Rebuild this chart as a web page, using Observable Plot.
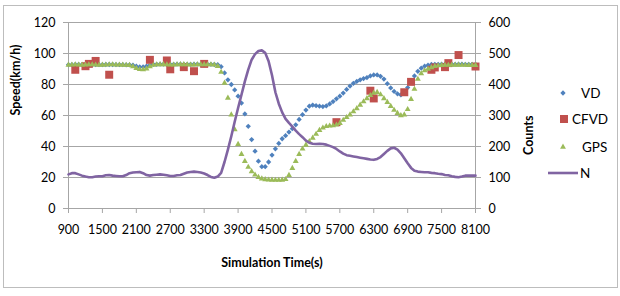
<!DOCTYPE html>
<html>
<head>
<meta charset="utf-8">
<script src="https://cdn.jsdelivr.net/npm/d3@7"></script>
<script src="https://cdn.jsdelivr.net/npm/@observablehq/plot@0.6"></script>
<style>
  html, body { margin: 0; padding: 0; background: #fff; }
  #chart { position: relative; width: 620px; height: 296px; font-family: Lato, sans-serif; }
  #chart svg { position: absolute; left: 0; top: 0; }
  #frame { position: absolute; left: 3px; top: 5px; width: 613px; height: 281px; border: 1px solid #bdbdbd; pointer-events: none; }
</style>
</head>
<body>
<div id="chart"><div id="frame"></div></div>
<script>
// Simulation time steps (s), one sample per minute
const times = d3.range(900, 8101, 60);

// VD speed (km/h)
const vd = [
  92.8, 92.8, 92.9, 92.9, 92.8, 92.8, 92.9, 92.9, 92.8, 92.8,
  92.8, 92.9, 92.9, 92.9, 92.8, 92.8, 92.8, 92.7, 92.7, 92.5,
  91.8, 91.3, 91.3, 91.8, 92.5, 93.0, 93.0, 93.1, 93.1, 93.0,
  93.0, 93.0, 93.1, 93.1, 93.0, 93.0, 93.0, 93.1, 93.1, 93.0,
  93.0, 93.0, 93.0, 92.9, 92.8, 91.5, 87.5, 83.0, 80.0, 76.5,
  72.5, 68.0, 61.0, 53.0, 44.5, 37.0, 30.5, 27.0, 27.0, 30.0,
  34.5, 38.5, 42.0, 45.0, 47.0, 49.3, 51.5, 54.0, 57.5, 60.5,
  63.5, 66.0, 66.7, 66.3, 66.0, 65.8, 66.2, 67.5, 69.0, 70.8,
  72.5, 74.5, 76.8, 79.0, 80.8, 82.0, 83.0, 83.8, 84.5, 85.5,
  86.2, 86.2, 85.3, 83.5, 80.5, 77.8, 75.5, 74.0, 73.3, 74.5,
  78.0, 81.5, 85.5, 88.5, 90.5, 91.8, 92.5, 92.9, 93.0, 93.0,
  93.1, 93.1, 93.0, 93.0, 93.0, 93.1, 93.1, 93.0, 93.0, 93.0,
  93.0
];

// GPS speed (km/h)
const gps = [
  92.6, 92.7, 92.8, 92.7, 92.6, 92.7, 92.8, 92.8, 92.7, 92.6,
  92.6, 92.7, 92.8, 92.8, 92.7, 92.7, 92.6, 92.5, 92.4, 91.6,
  90.5, 89.8, 89.7, 90.2, 91.6, 92.5, 92.8, 92.9, 92.9, 92.8,
  92.7, 92.7, 92.8, 92.9, 92.9, 92.8, 92.7, 92.7, 92.8, 92.9,
  92.9, 92.8, 92.8, 92.7, 91.8, 88.0, 81.0, 71.3, 60.5, 51.0,
  41.5, 35.0, 30.5, 26.7, 23.9, 21.7, 20.2, 19.2, 18.7, 18.5,
  18.4, 18.3, 18.3, 18.4, 18.8, 21.5, 26.0, 30.5, 35.0, 38.5,
  41.0, 43.2, 45.5, 48.0, 50.5, 52.0, 53.0, 53.3, 53.5, 54.0,
  55.0, 57.0, 58.8, 60.5, 62.5, 64.5, 66.8, 69.0, 71.0, 73.0,
  74.5, 75.0, 73.5, 71.0, 68.6, 66.0, 63.5, 61.5, 60.0, 60.5,
  64.0, 70.5, 77.0, 83.5, 87.0, 89.0, 90.0, 91.0, 91.8, 92.2,
  92.4, 92.5, 92.5, 92.6, 92.6, 92.6, 92.5, 92.5, 92.4, 92.4,
  92.4
];

// N: vehicle counts (right axis)
const counts = [
  110, 114, 114, 110, 106, 103, 101, 101, 103, 104,
  104, 107, 108, 106, 105, 104, 104, 108, 114, 116,
  117, 118, 114, 108, 106, 108, 109, 110, 109, 107,
  105, 105, 107, 108, 112, 116, 118, 119, 118, 116,
  113, 108, 102, 99, 103, 115, 150, 190, 233, 280,
  324, 367, 410, 448, 480, 498, 508, 510, 502, 475,
  430, 375, 338, 310, 289, 276, 264, 251, 240, 230,
  219, 212, 209, 208, 209, 208, 206, 202, 198, 192,
  184, 177, 172, 170, 168, 166, 164, 162, 160, 158,
  157, 160, 166, 176, 186, 194, 196, 190, 178, 162,
  146, 131, 122, 119, 118, 117, 117, 115, 114, 112,
  111, 108, 107, 104, 102, 101, 103, 106, 106, 106,
  106
];

// CFVD estimates (sparse)
const cfvdTime  = [1020, 1200, 1260, 1380, 1620, 2340, 2640, 2700, 2940, 3120, 3300,
                   5640, 6240, 6300, 6840, 6960, 7320, 7380, 7560, 7620, 7800, 8100];
const cfvdSpeed = [89.5, 91.8, 93.3, 95.2, 86.3, 95.9, 95.5, 89.8, 91.2, 88.6, 93.3,
                   55.7, 76.0, 71.0, 75.0, 81.7, 89.5, 91.0, 91.2, 93.8, 99.0, 91.6];

// Axis ticks
const xTicks = [900, 1500, 2100, 2700, 3300, 3900, 4500, 5100, 5700, 6300, 6900, 7500, 8100];
const speedTicks = [0, 20, 40, 60, 80, 100, 120];
const countTicks = [0, 100, 200, 300, 400, 500, 600];

// Series names and colours
const seriesNames = ["VD", "CFVD", "GPS", "N"];
const seriesColors = ["#4f81bd", "#c0504d", "#9bbb59", "#8064a2"];

const rows = times.map((t, i) => ({t, vd: vd[i], gps: gps[i], n: counts[i]}));
const cf = cfvdTime.map((t, i) => ({t, v: cfvdSpeed[i]}));

// counts share the speed scale: 600 counts <-> 120 km/h
const countToSpeed = c => c / 5;

const gridColor = "#a6a6a6";
const tickFont = 12.5;

const chart = Plot.plot({
  width: 620,
  height: 296,
  marginLeft: 68,
  marginRight: 145,
  marginTop: 22,
  marginBottom: 88,
  style: {fontFamily: "Lato, sans-serif", fontSize: "12.5px", color: "#000", background: "transparent"},
  x: {domain: [900, 8100]},
  y: {domain: [0, 120]},
  marks: [
    Plot.ruleY(speedTicks.filter(d => d > 0), {stroke: gridColor, strokeWidth: 1}),
    Plot.ruleY([0], {stroke: gridColor, strokeWidth: 1}),
    Plot.ruleX([900, 8100], {stroke: gridColor, strokeWidth: 1}),
    Plot.axisY(speedTicks, {anchor: "left", tickSize: 5, tickPadding: 8, stroke: gridColor, fill: "#000", label: null, fontSize: tickFont}),
    Plot.axisY(countTicks.map(countToSpeed), {anchor: "right", tickSize: 5, tickPadding: 8, stroke: gridColor, fill: "#000", label: null, fontSize: tickFont,
      tickFormat: d => String(Math.round(d * 5))}),
    Plot.axisX(xTicks, {anchor: "bottom", tickSize: 5, tickPadding: 12, stroke: gridColor, fill: "#000", label: null, fontSize: tickFont, tickFormat: d => String(d)}),
    Plot.dot(rows, {x: "t", y: "vd", symbol: "square", rotate: 45, r: 2.1, fill: seriesColors[0]}),
    Plot.dot(cf, {x: "t", y: "v", symbol: "square", r: 4.5, fill: seriesColors[1]}),
    Plot.dot(rows, {x: "t", y: "gps", symbol: "triangle", r: 2.2, fill: seriesColors[2]}),
    Plot.line(rows, {x: "t", y: d => countToSpeed(d.n), stroke: seriesColors[3], strokeWidth: 2.6}),
    Plot.text(["Simulation Time(s)"], {frameAnchor: "bottom", dy: 54, fontWeight: "bold", fontSize: 12.5, lineAnchor: "middle"}),
    Plot.text(["Speed(km/h)"], {frameAnchor: "left", dx: -53, rotate: -90, fontWeight: "bold", fontSize: 12.5}),
    Plot.text(["Counts"], {frameAnchor: "right", dx: 53, rotate: -90, fontWeight: "bold", fontSize: 12.5})
  ]
});
document.getElementById("chart").appendChild(chart);

// Legend on the right
const legend = d3.select("#chart").append("svg")
  .attr("width", 620).attr("height", 296)
  .style("font-family", "Lato, sans-serif").style("font-size", "13.5px");
const legendY = [93, 119, 147, 173];
const items = legend.selectAll("g").data(seriesNames).join("g")
  .attr("transform", (d, i) => `translate(0,${legendY[i]})`);
items.each(function (name, i) {
  const g = d3.select(this);
  if (i === 0) g.append("path").attr("d", d3.symbol(d3.symbolSquare, 14)()).attr("transform", "translate(563,0) rotate(45)").attr("fill", seriesColors[0]);
  if (i === 1) g.append("path").attr("d", d3.symbol(d3.symbolSquare, 64)()).attr("transform", "translate(564,0)").attr("fill", seriesColors[1]);
  if (i === 2) g.append("path").attr("d", d3.symbol(d3.symbolTriangle, 15)()).attr("transform", "translate(563,0)").attr("fill", seriesColors[2]);
  if (i === 3) g.append("line").attr("x1", 548).attr("x2", 578).attr("stroke", seriesColors[3]).attr("stroke-width", 2.6);
  g.append("text").attr("x", [581, 572, 582, 580][i]).attr("dy", "0.35em").text(name);
});
</script>
</body>
</html>
